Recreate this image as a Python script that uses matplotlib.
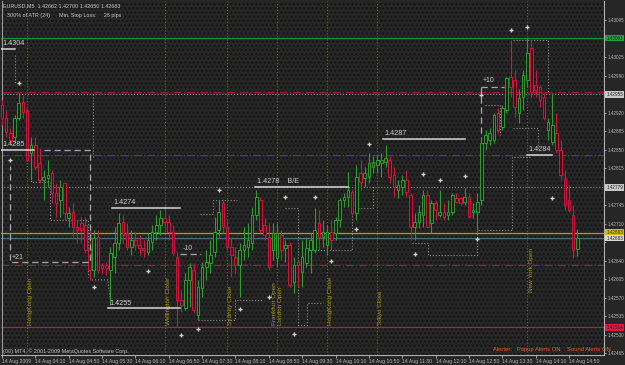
import matplotlib
matplotlib.use("Agg")
import matplotlib.pyplot as plt
import matplotlib.transforms as mtransforms
from matplotlib.patches import Rectangle
import numpy as np

plt.rcParams['font.family'] = ['Liberation Sans', 'DejaVu Sans']

# EURUSD M5, 14 Aug 2009, bars from 03:30
opens = [1.42935, 1.42910, 1.42881, 1.42874, 1.42910, 1.42940, 1.42925, 1.42844, 1.42859, 1.42825,
         1.42793, 1.42797, 1.42806, 1.42768, 1.42755, 1.42787, 1.42721, 1.42732, 1.42704, 1.42711,
         1.42708, 1.42664, 1.42623, 1.42685, 1.42633, 1.42633, 1.42623, 1.42648, 1.42673, 1.42713,
         1.42692, 1.42666, 1.42679, 1.42670, 1.42664, 1.42657, 1.42675, 1.42694, 1.42708, 1.42721,
         1.42713, 1.42694, 1.42648, 1.42566, 1.42551, 1.42604, 1.42623, 1.42538, 1.42589, 1.42628,
         1.42636, 1.42657, 1.42698, 1.42749, 1.42704, 1.42666, 1.42648, 1.42633, 1.42661, 1.42666,
         1.42673, 1.42727, 1.42755, 1.42708, 1.42685, 1.42661, 1.42645, 1.42689, 1.42664, 1.42670,
         1.42600, 1.42638, 1.42619, 1.42636, 1.42661, 1.42661, 1.42711, 1.42685, 1.42670, 1.42694,
         1.42692, 1.42717, 1.42755, 1.42761, 1.42770, 1.42730, 1.42806, 1.42797, 1.42799, 1.42818,
         1.42821, 1.42825, 1.42827, 1.42831, 1.42803, 1.42774, 1.42780, 1.42793, 1.42764, 1.42704,
         1.42713, 1.42727, 1.42764, 1.42711, 1.42749, 1.42727, 1.42732, 1.42727, 1.42732, 1.42759,
         1.42759, 1.42751, 1.42761, 1.42732, 1.42732, 1.42755, 1.42862, 1.42868, 1.42868, 1.42919,
         1.42893, 1.42925, 1.42987, 1.42982, 1.42919, 1.42950, 1.42982, 1.43042, 1.42972, 1.42969,
         1.42950, 1.42887, 1.42865, 1.42881, 1.42850, 1.42797, 1.42755, 1.42727, 1.42662]
highs = [1.42944, 1.42925, 1.42891, 1.42916, 1.42957, 1.42954, 1.42929, 1.42874, 1.42874, 1.42853,
         1.42812, 1.42831, 1.42812, 1.42787, 1.42793, 1.42787, 1.42742, 1.42749, 1.42717, 1.42723,
         1.42723, 1.42698, 1.42698, 1.42698, 1.42636, 1.42638, 1.42666, 1.42704, 1.42730, 1.42727,
         1.42711, 1.42698, 1.42694, 1.42689, 1.42679, 1.42692, 1.42708, 1.42727, 1.42736, 1.42745,
         1.42727, 1.42708, 1.42657, 1.42585, 1.42617, 1.42636, 1.42636, 1.42604, 1.42638, 1.42661,
         1.42679, 1.42723, 1.42755, 1.42755, 1.42717, 1.42685, 1.42666, 1.42673, 1.42704, 1.42711,
         1.42742, 1.42774, 1.42761, 1.42721, 1.42711, 1.42711, 1.42711, 1.42698, 1.42679, 1.42675,
         1.42648, 1.42642, 1.42679, 1.42685, 1.42692, 1.42740, 1.42736, 1.42717, 1.42708, 1.42717,
         1.42723, 1.42759, 1.42768, 1.42808, 1.42774, 1.42821, 1.42831, 1.42818, 1.42844, 1.42838,
         1.42840, 1.42844, 1.42859, 1.42838, 1.42818, 1.42793, 1.42803, 1.42812, 1.42768, 1.42730,
         1.42745, 1.42774, 1.42774, 1.42755, 1.42755, 1.42774, 1.42749, 1.42755, 1.42768, 1.42768,
         1.42761, 1.42778, 1.42768, 1.42749, 1.42768, 1.42872, 1.42887, 1.42891, 1.42919, 1.42929,
         1.42935, 1.42987, 1.43057, 1.43001, 1.42965, 1.43001, 1.43061, 1.43058, 1.43001, 1.42972,
         1.42957, 1.42910, 1.42957, 1.42919, 1.42868, 1.42812, 1.42783, 1.42745, 1.42700]
lows = [1.42897, 1.42874, 1.42862, 1.42862, 1.42906, 1.42910, 1.42827, 1.42793, 1.42812, 1.42787,
        1.42755, 1.42780, 1.42749, 1.42723, 1.42723, 1.42717, 1.42704, 1.42685, 1.42673, 1.42673,
        1.42655, 1.42604, 1.42610, 1.42617, 1.42617, 1.42613, 1.42557, 1.42617, 1.42661, 1.42673,
        1.42661, 1.42651, 1.42661, 1.42651, 1.42648, 1.42651, 1.42661, 1.42679, 1.42689, 1.42698,
        1.42679, 1.42651, 1.42515, 1.42543, 1.42547, 1.42553, 1.42541, 1.42528, 1.42572, 1.42604,
        1.42617, 1.42648, 1.42685, 1.42692, 1.42661, 1.42610, 1.42617, 1.42572, 1.42642, 1.42648,
        1.42661, 1.42717, 1.42692, 1.42679, 1.42623, 1.42642, 1.42628, 1.42642, 1.42638, 1.42591,
        1.42579, 1.42591, 1.42591, 1.42628, 1.42617, 1.42655, 1.42661, 1.42666, 1.42651, 1.42661,
        1.42679, 1.42704, 1.42742, 1.42742, 1.42727, 1.42717, 1.42774, 1.42780, 1.42787, 1.42806,
        1.42806, 1.42799, 1.42818, 1.42787, 1.42761, 1.42759, 1.42764, 1.42761, 1.42679, 1.42679,
        1.42702, 1.42704, 1.42702, 1.42692, 1.42717, 1.42723, 1.42717, 1.42717, 1.42727, 1.42749,
        1.42745, 1.42745, 1.42723, 1.42721, 1.42698, 1.42745, 1.42850, 1.42859, 1.42862, 1.42881,
        1.42887, 1.42919, 1.42950, 1.42912, 1.42901, 1.42925, 1.42969, 1.42950, 1.42950, 1.42931,
        1.42906, 1.42868, 1.42859, 1.42844, 1.42793, 1.42736, 1.42732, 1.42645, 1.42650]
closes = [1.42910, 1.42883, 1.42868, 1.42910, 1.42938, 1.42921, 1.42831, 1.42859, 1.42818, 1.42793,
          1.42799, 1.42803, 1.42768, 1.42749, 1.42780, 1.42730, 1.42730, 1.42704, 1.42698, 1.42698,
          1.42661, 1.42623, 1.42683, 1.42623, 1.42627, 1.42627, 1.42655, 1.42673, 1.42711, 1.42689,
          1.42666, 1.42679, 1.42670, 1.42664, 1.42661, 1.42679, 1.42694, 1.42708, 1.42721, 1.42713,
          1.42694, 1.42655, 1.42566, 1.42557, 1.42604, 1.42628, 1.42547, 1.42591, 1.42628, 1.42638,
          1.42651, 1.42694, 1.42732, 1.42704, 1.42666, 1.42651, 1.42633, 1.42661, 1.42670, 1.42679,
          1.42727, 1.42761, 1.42698, 1.42689, 1.42628, 1.42692, 1.42692, 1.42661, 1.42670, 1.42594,
          1.42633, 1.42633, 1.42648, 1.42664, 1.42679, 1.42698, 1.42685, 1.42694, 1.42694, 1.42679,
          1.42717, 1.42755, 1.42761, 1.42774, 1.42730, 1.42799, 1.42789, 1.42806, 1.42825, 1.42827,
          1.42831, 1.42831, 1.42834, 1.42799, 1.42780, 1.42783, 1.42793, 1.42770, 1.42704, 1.42713,
          1.42732, 1.42764, 1.42704, 1.42749, 1.42736, 1.42732, 1.42723, 1.42732, 1.42764, 1.42751,
          1.42749, 1.42761, 1.42723, 1.42736, 1.42751, 1.42862, 1.42878, 1.42881, 1.42916, 1.42887,
          1.42929, 1.42986, 1.42969, 1.42931, 1.42948, 1.42991, 1.43033, 1.42959, 1.42963, 1.42944,
          1.42910, 1.42902, 1.42897, 1.42850, 1.42803, 1.42745, 1.42736, 1.42661, 1.42683]

time_ticks = [0, 8, 16, 24, 32, 40, 48, 56, 64, 72, 80, 88, 96, 104, 112, 120, 128, 136]
time_labels = ["14 Aug 2009", "14 Aug 04:10", "14 Aug 04:50", "14 Aug 05:30", "14 Aug 06:10",
               "14 Aug 06:50", "14 Aug 07:30", "14 Aug 08:10", "14 Aug 08:50", "14 Aug 09:30",
               "14 Aug 10:10", "14 Aug 10:50", "14 Aug 11:30", "14 Aug 12:10", "14 Aug 12:50",
               "14 Aug 13:30", "14 Aug 14:10", "14 Aug 14:50"]

session_bars = [6, 39, 54, 66, 66, 78, 90, 126]
session_names = ["HongKong Open", "Wellington Close", "Sydney Close", "Frankfurt Open",
                 "London Open", "HongKong Close", "Tokyo Close", "New York Open"]

# horizontal levels: price, colour, style
level_prices = [1.43061, 1.42959, 1.42955, 1.42840, 1.42779, 1.42693, 1.42683, 1.42632, 1.42514]
level_colors = ["#1f8a3a", "#a01c3c", "#8c8c8c", "#3c3c9a", "#8c8c8c", "#b4a000", "#566a78", "#a01c3c", "#c8143c"]
level_styles = ["-", "-.", ":", "-.", ":", "-", "-", "-.", "-"]
tag_prices = [1.43061, 1.42955, 1.42779, 1.42693, 1.42683, 1.42514]
tag_colors = ["#22a040", "#c8c8c8", "#c8c8c8", "#d2be00", "#d8d8d8", "#e8143c"]

# price labels drawn on the chart with their underline
mark_texts = ["1.4304", "1.4285", "1.4274", "1.4255", "1.4278    B/E", "1.4287", "1.4284"]
mark_prices = [1.4304, 1.4285, 1.4274, 1.4255, 1.4278, 1.4287, 1.4284]
mark_start = [-0.2, -0.2, 26.4, 25.4, 60.7, 91.4, 125.9]
mark_end = [3.1, 7.7, 42.7, 42.7, 83.0, 111.0, 131.9]

# pip counters with dashed brackets
pip_texts = ["+21", "-10", "+10"]
pip_bars = [2.4, 43.4, 115.3]
pip_prices = [1.42640, 1.42656, 1.42975]

# signal arrows
signal_bars = [4, 2, 22, 35, 43, 47, 57, 64, 70, 88, 52, 68, 75, 79, 85, 101, 105, 111, 99, 114, 132, 122, 126, 115]
signal_prices = [1.42976, 1.42831, 1.42591, 1.42621, 1.42500, 1.42511, 1.42549, 1.42572, 1.42502, 1.42861,
                 1.42774, 1.42761, 1.42761, 1.42640, 1.42700, 1.42804, 1.42793, 1.42801, 1.42653, 1.42681,
                 1.42759, 1.43076, 1.43082, 1.42954]

# trailing stop steps
stop_bars = [[3.1, 3.1], [21.8, 21.8], [7.0, 7.0, 11.5, 11.5, 20.6, 20.6], [21.6, 25.4, 25.9],
             [47.0, 55.9, 55.9, 62.6], [47.5, 50.6, 50.6, 56.4],
             [67.9, 71.0, 71.0, 73.1, 73.1, 77.0], [71.5, 74.6, 74.6, 83.9, 83.9, 89.0, 89.0],
             [98.3, 102.2, 102.2, 113.9, 113.9, 122.3, 122.3, 126.6], [115.8, 119.4, 119.4],
             [122.5, 128.5, 128.5], [122.5, 130.9, 130.9]]
stop_prices = [[1.43029, 1.42974], [1.42955, 1.42834], [1.42853, 1.42789, 1.42789, 1.42717, 1.42717, 1.42610],
               [1.42604, 1.42604, 1.42570], [1.42528, 1.42528, 1.42566, 1.42566],
               [1.42728, 1.42728, 1.42755, 1.42755],
               [1.42740, 1.42740, 1.42519, 1.42519, 1.42560, 1.42560],
               [1.42683, 1.42683, 1.42661, 1.42661, 1.42740, 1.42740, 1.42783],
               [1.42674, 1.42674, 1.42651, 1.42651, 1.42698, 1.42698, 1.42836, 1.42836],
               [1.42935, 1.42935, 1.42878], [1.42891, 1.42891, 1.42850], [1.43057, 1.43057, 1.42957]]

bg = "#262626"
fig = plt.figure(figsize=(6.25, 3.65), dpi=100, facecolor=bg)
ax = fig.add_axes([1 / 625, 10 / 365, 603 / 625, 354 / 365])
ax.set_facecolor(bg)
ax.add_patch(Rectangle((0, 0), 1, 1, transform=ax.transAxes, facecolor="none",
                       edgecolor="#141414", hatch="....", lw=0, zorder=0))
ax.set_xlim(-0.24, 144.4)
ax.set_ylim(1.42462, 1.43131)

x = np.arange(len(closes))
o = np.array(opens)
c = np.array(closes)
h = np.maximum(np.array(highs), np.maximum(o, c))
l = np.minimum(np.array(lows), np.minimum(o, c))
up = c >= o
for mask, edge, face in [(up, "#2e9a30", "#0e2a0e"), (~up, "#cc1840", "#4a0a16")]:
    ax.vlines(x[mask], l[mask], h[mask], color=edge, lw=0.8, zorder=4)
    bottom = np.minimum(o, c)[mask]
    height = np.maximum(np.abs(c - o)[mask], 0.00003)
    ax.bar(x[mask], height, bottom=bottom, width=0.62, color=face, edgecolor=edge,
           linewidth=0.7, zorder=5)

for p, col, ls in zip(level_prices, level_colors, level_styles):
    ax.axhline(p, color=col, ls=ls, lw=0.9 if ls != ":" else 0.8, zorder=3)

for b in sorted(set(session_bars)):
    ax.axvline(b, color="#6c6c00", ls=":", lw=0.8, zorder=2)
for b, name in zip(session_bars, session_names):
    off = -0.6 if name == "Frankfurt Open" else 0.9
    base = 1.42582 if name == "New York Open" else 1.42518
    ax.text(b + off, base, name, rotation=90, color="#a89a10", fontsize=4.6,
            ha="center", va="bottom", zorder=6)

for xs, ps in zip(stop_bars, stop_prices):
    ax.plot(xs, ps, color="#8a8a8a", ls=":", lw=0.8, zorder=3)

ax.plot(signal_bars, signal_prices, ls="none", marker="+", ms=3.5, mew=1.0,
        color="#d0d0d0", zorder=7)

for t, p, x0, x1 in zip(mark_texts, mark_prices, mark_start, mark_end):
    ax.plot([x0, x1], [p, p], color="#d8d8d8", lw=1.1, zorder=6)
    ax.annotate(t, (x0 + 0.4, p), xytext=(0, 1.2), textcoords="offset points",
                color="#d0d0d0", fontsize=5.2, ha="left", va="bottom", zorder=7)

# dashed brackets around pip counters
ax.plot([10.0, 21.1, 21.1, 2.0, 2.0], [1.42849, 1.42849, 1.42638, 1.42638, 1.42820],
        color="#a8a8a8", ls=(0, (5, 3)), lw=0.9, zorder=6)
ax.plot([42.7, 47.8], [1.42653, 1.42653], color="#a8a8a8", ls=(0, (5, 3)), lw=0.9, zorder=6)
ax.plot([115.0, 120.5], [1.42969, 1.42969], color="#a8a8a8", ls=(0, (5, 3)), lw=0.9, zorder=6)
ax.plot([115.0, 115.0], [1.42969, 1.42872], color="#a8a8a8", ls=(0, (5, 3)), lw=0.9, zorder=6)
for t, b, p in zip(pip_texts, pip_bars, pip_prices):
    ax.text(b, p, t, color="#c8c8c8", fontsize=5, ha="left", va="bottom", zorder=7)

# axes styling
for side in ["top", "left"]:
    ax.spines[side].set_visible(False)
ax.spines["right"].set_color("#b0b0b0")
ax.spines["bottom"].set_color("#b0b0b0")
ax.spines["right"].set_linewidth(0.8)
ax.spines["bottom"].set_linewidth(0.8)
ax.axvline(-0.1, color="#9a9a9a", lw=0.8, zorder=3)
ax.yaxis.tick_right()
yt = np.round(np.arange(1.42465, 1.43096, 0.00035), 5)
ax.set_yticks(yt)
# a tag box covers the scale label underneath it
ax.set_yticklabels(["" if min(abs(v - t) for t in tag_prices) < 0.00012 else f"{v:.5f}" for v in yt])
ax.set_xticks(time_ticks)
ax.set_xticklabels(time_labels)
ax.tick_params(axis="y", colors="#b8b8b8", labelsize=3.3, length=1.5, width=0.6, pad=1)
ax.tick_params(axis="x", colors="#b8b8b8", labelsize=3.7, length=2, width=0.6, pad=1)
for lab in ax.get_xticklabels():
    lab.set_ha("left")

trans = mtransforms.blended_transform_factory(ax.transAxes, ax.transData)
for p, col in zip(tag_prices, tag_colors):
    ax.text(1.004, p, f"{p:.5f}", transform=trans, fontsize=3.3, color="#202020",
            ha="left", va="center", clip_on=False, zorder=10,
            bbox=dict(boxstyle="square,pad=0.2", fc=col, ec="none"))

fig.text(3 / 625, 1 - 6 / 365, "EURUSD,M5  1.42662 1.42700 1.42650 1.42683", color="#c8c8c8",
         fontsize=3.9, ha="left", va="center")
fig.text(7 / 625, 1 - 16 / 365, "300% of ATR (24)      Min. Stop Loss:     26 pips", color="#c8c8c8",
         fontsize=3.9, ha="left", va="center")
fig.text(3 / 625, 1 - 351 / 365, "(00) MT4, \u00a9 2001-2009 MetaQuotes Software Corp.", color="#c0c0c0",
         fontsize=3.9, ha="left", va="center")
fig.text(493 / 625, 1 - 349 / 365, "Alerter:   Popup Alerts ON    Sound Alerts ON", color="#e8602c",
         fontsize=4.2, ha="left", va="center")

fig.savefig("out.png", dpi=100, facecolor=bg)
